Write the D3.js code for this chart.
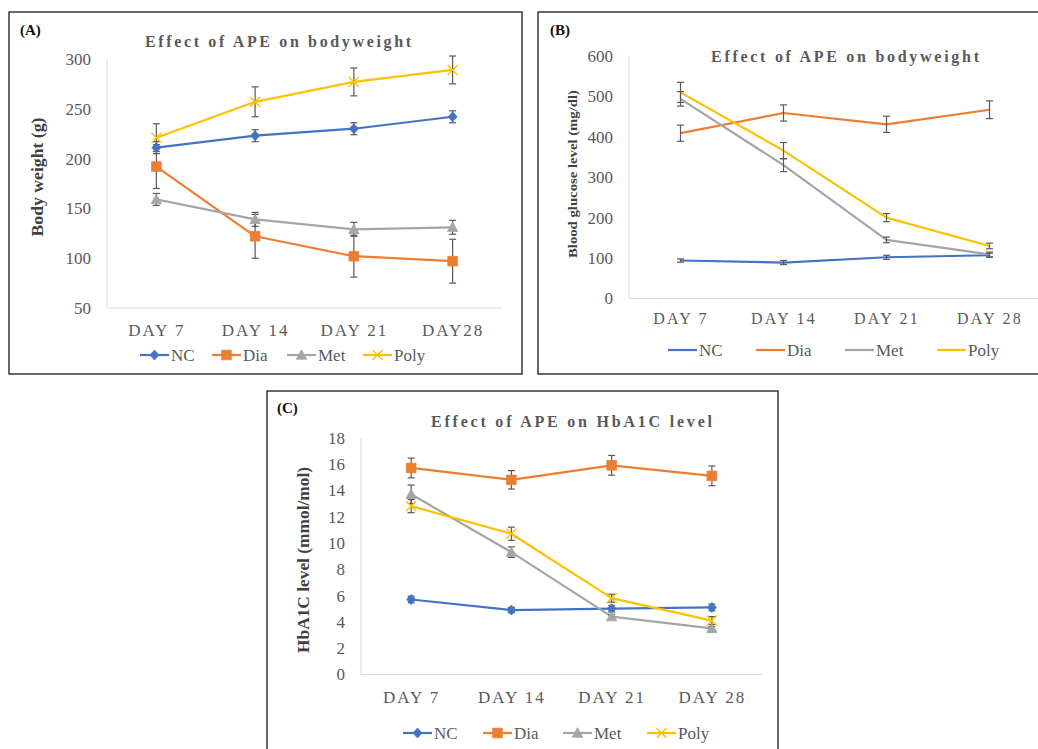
<!DOCTYPE html>
<html>
<head>
<meta charset="utf-8">
<script src="https://cdn.jsdelivr.net/npm/d3@7"></script>
<style>
  html, body { margin: 0; padding: 0; background: #fff; }
  svg text { font-family: "Liberation Serif", "Times New Roman", serif; }
</style>
</head>
<body>
<svg id="fig" width="1038" height="749"></svg>
<script>
// ---- data ----
const seriesNames = ["NC", "Dia", "Met", "Poly"];
const seriesColors = ["#4472C4", "#ED7D31", "#A5A5A5", "#FFC000"];

const daysA = ["DAY 7", "DAY 14", "DAY 21", "DAY28"];
const daysB = ["DAY 7", "DAY 14", "DAY 21", "DAY 28"];
const daysC = ["DAY 7", "DAY 14", "DAY 21", "DAY 28"];

// (A) body weight, g
const weightNC = [211, 223, 230, 242];
const weightDia = [192, 122, 102, 97];
const weightMet = [159, 139, 129, 131];
const weightPoly = [221, 257, 277, 289];
const weightNCErr = [6, 6, 6, 6];
const weightDiaErr = [22, 22, 21, 22];
const weightMetErr = [6, 7, 7, 7];
const weightPolyErr = [14, 15, 14, 14];
const weightTicks = [50, 100, 150, 200, 250, 300];

// (B) blood glucose, mg/dl
const glucoseNC = [94, 89, 102, 107];
const glucoseDia = [409, 459, 431, 467];
const glucoseMet = [494, 330, 145, 109];
const glucosePoly = [510, 366, 200, 130];
const glucoseNCErr = [4, 5, 5, 5];
const glucoseDiaErr = [20, 20, 20, 22];
const glucoseMetErr = [18, 16, 7, 6];
const glucosePolyErr = [25, 20, 10, 7];
const glucoseTicks = [0, 100, 200, 300, 400, 500, 600];

// (C) HbA1C, mmol/mol
const hbNC = [5.7, 4.9, 5.0, 5.1];
const hbDia = [15.7, 14.8, 15.9, 15.1];
const hbMet = [13.7, 9.3, 4.4, 3.5];
const hbPoly = [12.8, 10.7, 5.8, 4.1];
const hbNCErr = [0.25, 0.2, 0.25, 0.25];
const hbDiaErr = [0.75, 0.7, 0.75, 0.75];
const hbMetErr = [0.7, 0.4, 0.15, 0.15];
const hbPolyErr = [0.5, 0.5, 0.3, 0.3];
const hbTicks = [0, 2, 4, 6, 8, 10, 12, 14, 16, 18];

// ---- drawing ----
const svg = d3.select("#fig");
const SERIF = "'Liberation Serif', 'Times New Roman', serif";
const TEXT = "#595959";
const ERR = "#595959";

function markerPath(kind) {
  switch (kind) {
    case "NC": return "M0,-5L4.5,0L0,5L-4.5,0Z";
    case "Dia": return "M-4.8,-4.8H4.8V4.8H-4.8Z";
    case "Met": return "M0,-5.2L5.2,4.2H-5.2Z";
    default: return "M-5,-5L5,5M-5,5L5,-5";
  }
}

function drawMarker(g, kind, color, x, y) {
  const p = g.append("path")
    .attr("transform", `translate(${x},${y})`)
    .attr("d", markerPath(kind));
  if (kind === "Poly") p.attr("fill", "none").attr("stroke", color).attr("stroke-width", 1.4);
  else p.attr("fill", color).attr("stroke", color).attr("stroke-width", 0.8);
}

function drawPanel(cfg) {
  const g = svg.append("g");

  // frame
  g.append("rect")
    .attr("x", cfg.frame[0]).attr("y", cfg.frame[1])
    .attr("width", cfg.frame[2]).attr("height", cfg.frame[3])
    .attr("fill", "none").attr("stroke", "#1a1a1a").attr("stroke-width", 1.3);

  // panel letter
  g.append("text").attr("x", cfg.letterPos[0]).attr("y", cfg.letterPos[1])
    .style("font-family", SERIF)
    .attr("font-size", 15).attr("font-weight", "bold").attr("fill", "#111")
    .text(cfg.letter);

  // title
  g.append("text").attr("x", cfg.titlePos[0]).attr("y", cfg.titlePos[1])
    .style("font-family", SERIF)
    .attr("font-size", 16).attr("font-weight", "bold").attr("fill", TEXT)
    .attr("textLength", cfg.titleLen).attr("lengthAdjust", "spacing")
    .text(cfg.title);

  const x = d3.scalePoint().domain(cfg.days).range([cfg.plot.left, cfg.plot.right]).padding(0.5);
  const y = d3.scaleLinear().domain(cfg.yDomain).range([cfg.plot.bottom, cfg.plot.top]);

  // axis lines (light grey)
  g.append("line").attr("x1", cfg.plot.left).attr("x2", cfg.plot.left)
    .attr("y1", cfg.plot.top).attr("y2", cfg.plot.bottom)
    .attr("stroke", "#d9d9d9").attr("stroke-width", 1);
  g.append("line").attr("x1", cfg.plot.left).attr("x2", cfg.plot.axisRight)
    .attr("y1", cfg.plot.bottom).attr("y2", cfg.plot.bottom)
    .attr("stroke", "#d9d9d9").attr("stroke-width", 1);

  // y axis labels
  const yAx = g.append("g").attr("transform", `translate(${cfg.plot.left},0)`)
    .call(d3.axisLeft(y).tickValues(cfg.yTicks).tickSize(0).tickPadding(16));
  yAx.attr("font-family", null);
  yAx.select(".domain").remove();
  yAx.selectAll("text").style("font-family", SERIF)
    .attr("font-size", 17).attr("fill", TEXT);

  // x axis labels
  const xAx = g.append("g").attr("transform", `translate(0,${cfg.plot.bottom})`)
    .call(d3.axisBottom(x).tickSize(0));
  xAx.attr("font-family", null);
  xAx.select(".domain").remove();
  xAx.selectAll("text").style("font-family", SERIF)
    .attr("font-size", cfg.xFont).attr("fill", TEXT)
    .attr("letter-spacing", cfg.xSpacing)
    .attr("y", cfg.xLabelY - cfg.plot.bottom).attr("dy", "0.35em");

  // y axis title
  g.append("text")
    .attr("transform", `translate(${cfg.yLabelPos[0]},${cfg.yLabelPos[1]}) rotate(-90)`)
    .style("font-family", SERIF)
    .attr("text-anchor", "middle").attr("dy", "0.35em")
    .attr("font-size", cfg.yLabelFont).attr("font-weight", "bold").attr("fill", "#404040")
    .attr("textLength", cfg.yLabelLen).attr("lengthAdjust", "spacingAndGlyphs")
    .text(cfg.yLabel);

  const line = d3.line().x((d, i) => x(cfg.days[i])).y(d => y(d));

  // series lines
  cfg.series.forEach((s, k) => {
    g.append("path").datum(s.values)
      .attr("d", line).attr("fill", "none")
      .attr("stroke", seriesColors[k]).attr("stroke-width", 2.2)
      .attr("stroke-linejoin", "round");
  });

  // error bars
  cfg.series.forEach((s) => {
    s.values.forEach((v, i) => {
      const cx = x(cfg.days[i]);
      const y0 = y(v - s.err[i]), y1 = y(v + s.err[i]);
      g.append("line").attr("x1", cx).attr("x2", cx).attr("y1", y0).attr("y2", y1)
        .attr("stroke", ERR).attr("stroke-width", 1.2);
      [y0, y1].forEach(yy => g.append("line")
        .attr("x1", cx - 3.5).attr("x2", cx + 3.5).attr("y1", yy).attr("y2", yy)
        .attr("stroke", ERR).attr("stroke-width", 1.2));
    });
  });

  // markers
  if (cfg.markers) {
    cfg.series.forEach((s, k) => {
      s.values.forEach((v, i) => drawMarker(g, seriesNames[k], seriesColors[k], x(cfg.days[i]), y(v)));
    });
  }

  // legend
  seriesNames.forEach((name, k) => {
    const lx = cfg.legendX[k], ly = cfg.legendY;
    g.append("line").attr("x1", lx).attr("x2", lx + 29).attr("y1", ly).attr("y2", ly)
      .attr("stroke", seriesColors[k]).attr("stroke-width", 2.2);
    if (cfg.markers) drawMarker(g, name, seriesColors[k], lx + 14.5, ly);
    g.append("text").attr("x", lx + 31).attr("y", ly).attr("dy", "0.35em")
      .style("font-family", SERIF)
      .attr("font-size", 17).attr("fill", TEXT).text(name);
  });
}

drawPanel({
  frame: [9, 12, 513, 362],
  letter: "(A)", letterPos: [20, 35],
  title: "Effect of APE  on bodyweight", titlePos: [145, 47], titleLen: 266,
  days: daysA,
  plot: { left: 107, right: 502, top: 59, bottom: 308, axisRight: 502 },
  yDomain: [50, 300], yTicks: weightTicks,
  xFont: 17, xSpacing: 2, xLabelY: 330,
  yLabel: "Body weight (g)", yLabelPos: [37, 177], yLabelFont: 17, yLabelLen: 119,
  markers: true,
  series: [
    { values: weightNC, err: weightNCErr },
    { values: weightDia, err: weightDiaErr },
    { values: weightMet, err: weightMetErr },
    { values: weightPoly, err: weightPolyErr }
  ],
  legendX: [140, 212, 287, 363], legendY: 355
});

drawPanel({
  frame: [538, 12, 520, 362],
  letter: "(B)", letterPos: [550, 35],
  title: "Effect of APE  on bodyweight", titlePos: [711, 62], titleLen: 268,
  days: daysB,
  plot: { left: 629, right: 1041, top: 56, bottom: 298.5, axisRight: 1040 },
  yDomain: [0, 600], yTicks: glucoseTicks,
  xFont: 16, xSpacing: 2.2, xLabelY: 318,
  yLabel: "Blood glucose level (mg/dl)", yLabelPos: [572, 174], yLabelFont: 13, yLabelLen: 168,
  markers: false,
  series: [
    { values: glucoseNC, err: glucoseNCErr },
    { values: glucoseDia, err: glucoseDiaErr },
    { values: glucoseMet, err: glucoseMetErr },
    { values: glucosePoly, err: glucosePolyErr }
  ],
  legendX: [668, 756, 845, 937], legendY: 350
});

drawPanel({
  frame: [267, 391, 511, 370],
  letter: "(C)", letterPos: [277, 413],
  title: "Effect of APE  on HbA1C level", titlePos: [431, 427], titleLen: 281,
  days: daysC,
  plot: { left: 361, right: 762, top: 437.7, bottom: 674.5, axisRight: 762 },
  yDomain: [0, 18], yTicks: hbTicks,
  xFont: 17, xSpacing: 2, xLabelY: 697,
  yLabel: "HbA1C level (mmol/mol)", yLabelPos: [303, 560], yLabelFont: 17, yLabelLen: 186,
  markers: true,
  series: [
    { values: hbNC, err: hbNCErr },
    { values: hbDia, err: hbDiaErr },
    { values: hbMet, err: hbMetErr },
    { values: hbPoly, err: hbPolyErr }
  ],
  legendX: [403, 483, 563, 647], legendY: 733
});
</script>
</body>
</html>
